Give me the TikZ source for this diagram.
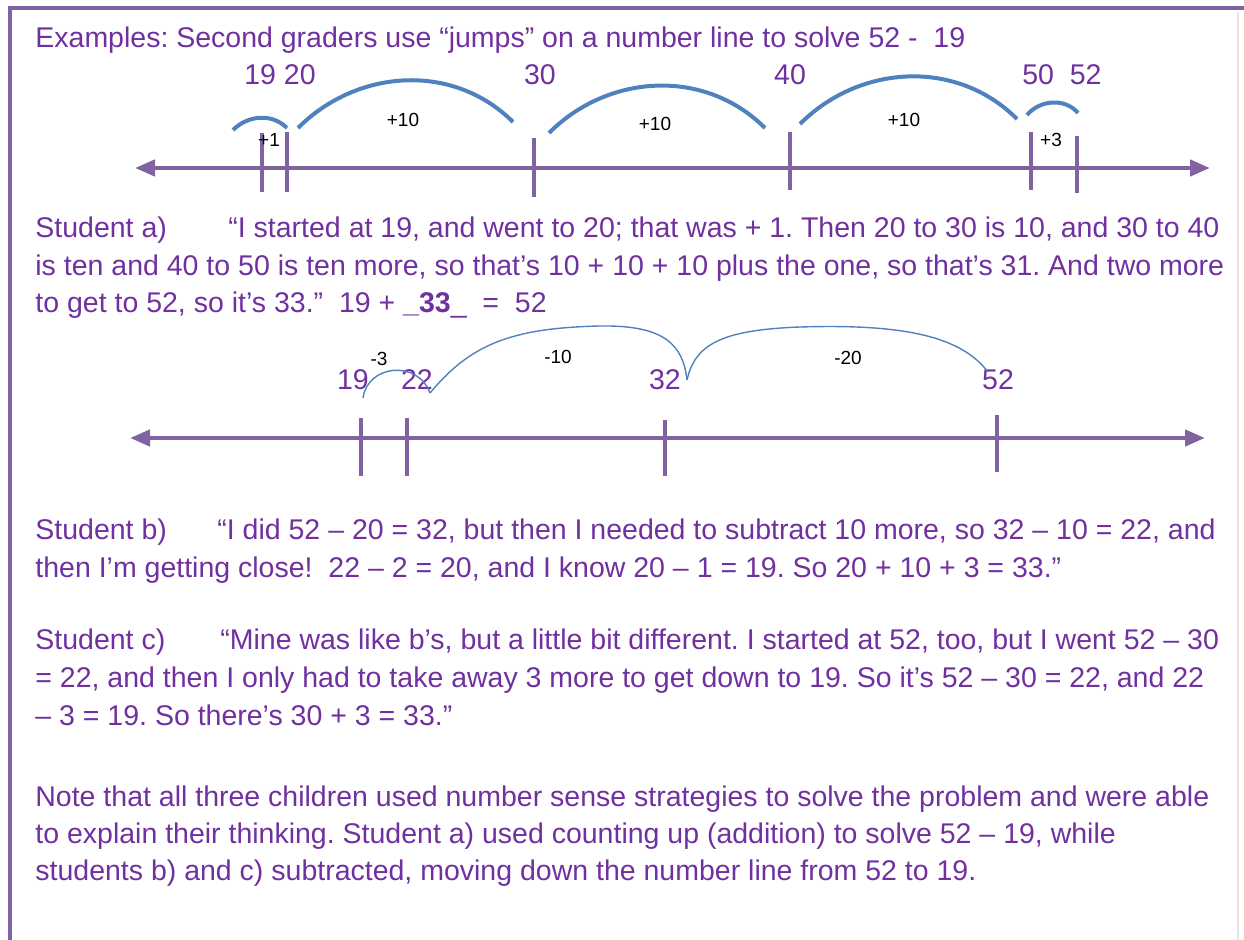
\documentclass[tikz,border=0pt]{standalone}
\usepackage{fontspec}
\setmainfont{Liberation Sans}
\usetikzlibrary{arrows.meta}
\frenchspacing
\definecolor{txtpurple}{HTML}{7030A0}
\definecolor{linepurple}{HTML}{8064A2}
\definecolor{jumpblue}{HTML}{4F81BD}
\tikzset{
  numaxis/.style={linepurple,line width=2.2pt,{Triangle[length=10pt,width=8pt]}-{Triangle[length=10pt,width=8pt]}},
  numtick/.style={linepurple,line width=2.4pt},
  txt/.style={txtpurple,anchor=base west,inner sep=0pt,font=\fontsize{14.25}{18}\selectfont},
  num/.style={txtpurple,anchor=base,inner sep=0pt,font=\fontsize{14.25}{18}\selectfont},
  jumplbl/.style={black,inner sep=0pt,font=\fontsize{9.5}{11}\selectfont},
  jump/.style={jumpblue,line width=2pt},
  thinjump/.style={jumpblue,line width=0.7pt}
}
\begin{document}
\begin{tikzpicture}[x=0.5pt,y=0.5pt]
	\useasboundingbox (0,0) rectangle (1244,-940);
	% frame
	\draw[linepurple,line width=2.2pt] (10,-940) -- (10,-8) -- (1244,-8);
	\draw[gray!20,line width=0.7pt] (1238,-12) -- (1238,-940);
	\node[txt] (title) at (35,-48) {Examples: Second graders use “jumps” on a number line to solve 52 -~ 19};
	% counting up
	\coordinate (la) at (135,-168);
	\coordinate (ra) at (1210,-168);
	\draw[numaxis] (la) -- (ra);
	\foreach \n/\x/\t/\b in {19/262/133/192,20/287/132/192,30/534/138/197,40/790/132/190,50/1031/132/190,52/1077/136/193}{
		\draw[numtick] (\x,-\t) coordinate (ta\n) -- (\x,-\b);
	}
	\node[num] (na1) at (280,-85) {19 20};
	\node[num] (na2) at (540,-85) {30};
	\node[num] (na3) at (790,-85) {40};
	\node[num] (na4) at (1062,-85) {50~ 52};
	\coordinate (j1s) at (233,-130); \coordinate (j1e) at (287,-128);
	\coordinate (j2s) at (298,-128); \coordinate (j2e) at (513,-122);
	\coordinate (j3s) at (549,-133); \coordinate (j3e) at (765,-128);
	\coordinate (j4s) at (800,-124); \coordinate (j4e) at (1017,-119);
	\coordinate (j5s) at (1027,-115); \coordinate (j5e) at (1078,-113);
	\draw[jump] (j1s) to[out=45,in=135] (j1e);
	\draw[jump] (j2s) to[out=45,in=135] (j2e);
	\draw[jump] (j3s) to[out=45,in=135] (j3e);
	\draw[jump] (j4s) to[out=45,in=135] (j4e);
	\draw[jump] (j5s) to[out=50,in=130] (j5e);
	\node[jumplbl] (ja1) at (269,-140) {+1};
	\node[jumplbl] (ja2) at (403,-120) {+10};
	\node[jumplbl] (ja3) at (655,-124) {+10};
	\node[jumplbl] (ja4) at (904,-120) {+10};
	\node[jumplbl] (ja5) at (1051,-140) {+3};
	\foreach \ln [count=\k from 0] in {{\makebox[96.5pt][l]{Student a)}“I started at 19, and went to 20; that was + 1. Then 20 to 30 is 10, and 30 to 40},
		{is ten and 40 to 50 is ten more, so that’s 10 + 10 + 10 plus the one, so that’s 31. And two more},
		{to get to 52, so it’s 33.”~ 19 + \textbf{\_33}\_~ =~ 52}}{
		\node[txt] (sa\k) at (35,{-238-37.5*\k}) {\ln};
	}
	% counting down
	\coordinate (lb) at (130,-438);
	\coordinate (rb) at (1205,-438);
	\draw[numaxis] (lb) -- (rb);
	\foreach \n/\x/\t/\b in {19/361/418/476,22/407/418/476,32/665/420/476,52/997/415/472}{
		\draw[numtick] (\x,-\t) coordinate (tb\n) -- (\x,-\b);
	}
	\node[num] (nb1) at (353,-390) {19};
	\node[num] (nb2) at (417,-390) {22};
	\node[num] (nb3) at (665,-390) {32};
	\node[num] (nb4) at (998,-390) {52};
	\coordinate (b19) at (363,-398);
	\coordinate (b22) at (430,-393);
	\coordinate (b32) at (687,-380);
	\coordinate (b52) at (988,-372);
	\draw[thinjump] (b19) .. controls (368,-364) and (418,-360) .. (b22);
	\draw[thinjump] (b22) .. controls (470,-345) and (510,-328) .. (600,-326) .. controls (665,-325) and (683,-345) .. (b32);
	\draw[thinjump] (b32) .. controls (695,-345) and (720,-330) .. (800,-327) .. controls (900,-324) and (960,-335) .. (b52);
	\node[jumplbl] (jb1) at (379,-359) {-3};
	\node[jumplbl] (jb2) at (558,-357) {-10};
	\node[jumplbl] (jb3) at (848,-358) {-20};
	\foreach \ln [count=\k from 0] in {{\makebox[91pt][l]{Student b)}“I did 52 – 20 = 32, but then I needed to subtract 10 more, so 32 – 10 = 22, and},
		{then I’m getting close!~ 22 – 2 = 20, and I know 20 – 1 = 19. So 20 + 10 + 3 = 33.”}}{
		\node[txt] (sb\k) at (35,{-540-38*\k}) {\ln};
	}
	\foreach \ln [count=\k from 0] in {{\makebox[92.5pt][l]{Student c)}“Mine was like b’s, but a little bit different. I started at 52, too, but I went 52 – 30},
		{= 22, and then I only had to take away 3 more to get down to 19. So it’s 52 – 30 = 22, and 22},
		{– 3 = 19. So there’s 30 + 3 = 33.”}}{
		\node[txt] (sc\k) at (35,{-650-38*\k}) {\ln};
	}
	\foreach \ln [count=\k from 0] in {{Note that all three children used number sense strategies to solve the problem and were able},
		{to explain their thinking. Student a) used counting up (addition) to solve 52 – 19, while},
		{students b) and c) subtracted, moving down the number line from 52 to 19.}}{
		\node[txt] (nt\k) at (35,{-807-37*\k}) {\ln};
	}
\end{tikzpicture}
\end{document}
